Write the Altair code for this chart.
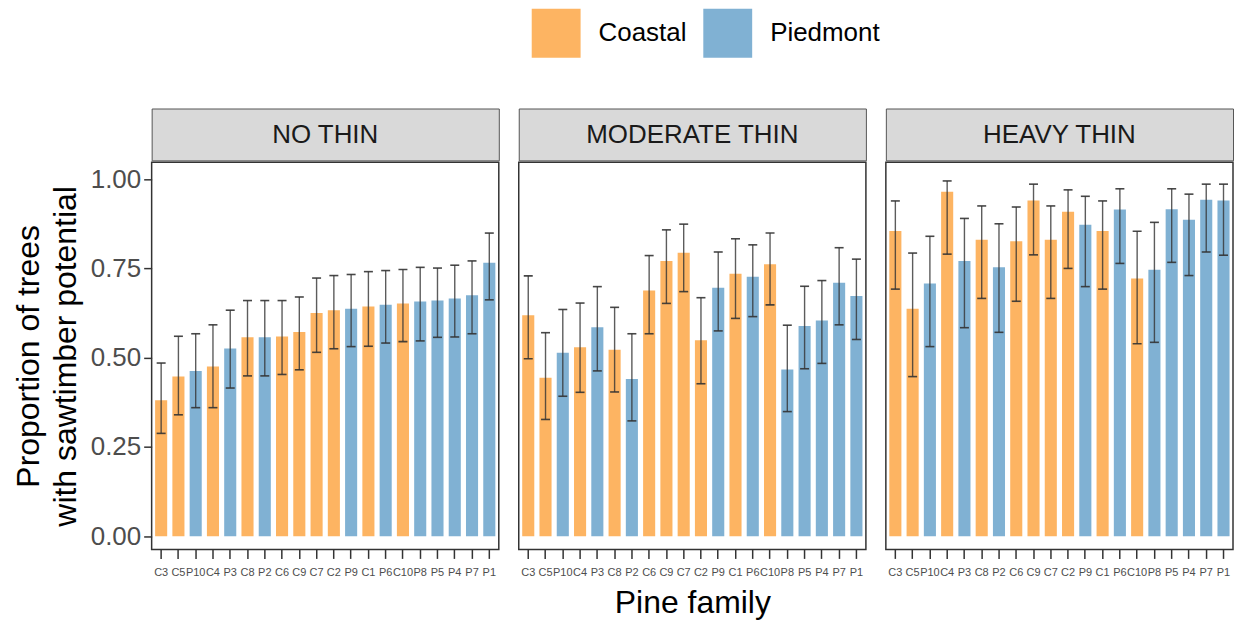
import altair as alt
import pandas as pd

families = ["C3", "C5", "P10", "C4", "P3", "C8", "P2", "C6", "C9", "C7",
            "C2", "P9", "C1", "P6", "C10", "P8", "P5", "P4", "P7", "P1"]
regions = ["Coastal" if f.startswith("C") else "Piedmont" for f in families]
treatments = ["NO THIN", "MODERATE THIN", "HEAVY THIN"]

no_thin = [0.381, 0.447, 0.463, 0.475, 0.526, 0.557, 0.557, 0.559, 0.572, 0.625,
           0.633, 0.637, 0.643, 0.648, 0.652, 0.657, 0.660, 0.666, 0.675, 0.766]
no_thin_lo = [0.288, 0.340, 0.360, 0.360, 0.415, 0.449, 0.449, 0.453, 0.466, 0.515,
              0.525, 0.531, 0.532, 0.541, 0.545, 0.547, 0.557, 0.558, 0.567, 0.662]
no_thin_hi = [0.485, 0.560, 0.567, 0.592, 0.633, 0.660, 0.660, 0.660, 0.670, 0.723,
              0.730, 0.733, 0.741, 0.744, 0.747, 0.753, 0.751, 0.759, 0.771, 0.849]

moderate = [0.619, 0.444, 0.514, 0.529, 0.585, 0.522, 0.440, 0.688, 0.771, 0.794,
            0.549, 0.696, 0.735, 0.727, 0.762, 0.467, 0.589, 0.604, 0.710, 0.673]
moderate_lo = [0.497, 0.327, 0.392, 0.403, 0.463, 0.404, 0.323, 0.567, 0.652, 0.685,
               0.427, 0.575, 0.610, 0.615, 0.648, 0.349, 0.469, 0.484, 0.592, 0.551]
moderate_hi = [0.729, 0.570, 0.635, 0.653, 0.699, 0.641, 0.567, 0.786, 0.858, 0.874,
               0.668, 0.796, 0.833, 0.816, 0.849, 0.591, 0.700, 0.716, 0.808, 0.776]

heavy = [0.855, 0.637, 0.708, 0.965, 0.771, 0.830, 0.753, 0.826, 0.940, 0.830,
         0.909, 0.872, 0.855, 0.915, 0.722, 0.746, 0.916, 0.886, 0.942, 0.940]
heavy_lo = [0.692, 0.447, 0.531, 0.790, 0.584, 0.666, 0.571, 0.658, 0.788, 0.666,
            0.750, 0.699, 0.692, 0.764, 0.539, 0.543, 0.767, 0.730, 0.796, 0.787]
heavy_hi = [0.939, 0.793, 0.840, 0.995, 0.890, 0.925, 0.875, 0.922, 0.986, 0.925,
            0.970, 0.952, 0.939, 0.973, 0.854, 0.879, 0.973, 0.958, 0.986, 0.986]

y_ticks = [0, 0.25, 0.5, 0.75, 1.0]
series = [(no_thin, no_thin_lo, no_thin_hi),
          (moderate, moderate_lo, moderate_hi),
          (heavy, heavy_lo, heavy_hi)]

FONT = "Liberation Sans"
W, H, STRIP = 348, 388, 52

color_scale = alt.Scale(domain=["Coastal", "Piedmont"], range=["#FDB462", "#80B1D3"])
y_scale = alt.Scale(domain=[-0.037, 1.047], nice=False)
x_scale = alt.Scale(paddingInner=0.3, paddingOuter=0.2)


def panel(i, name, vals, lo, hi):
    df = pd.DataFrame({"family": families, "value": vals, "lo": lo, "hi": hi,
                       "region": regions})
    strip = alt.Chart(
        pd.DataFrame({"t": [name]}),
        view=alt.ViewBackground(fill="#D9D9D9", stroke="#555555", strokeWidth=1),
    ).mark_text(font=FONT, fontSize=26, color="#1A1A1A", baseline="middle",
                align="center").encode(
        text="t:N", x=alt.value(W / 2), y=alt.value(STRIP / 2 + 1)
    ).properties(width=W, height=STRIP)

    if i == 0:
        yaxis = alt.Axis(values=y_ticks, format=".2f", labelFontSize=26,
                         labelColor="#4D4D4D", labelFont=FONT, tickColor="#333333",
                         tickWidth=1.5, tickSize=8, domain=False, grid=False,
                         labelPadding=3,
                         title=["Proportion of trees", "with sawtimber potential"],
                         titleFontSize=32, titleFontWeight="normal", titleColor="black",
                         titleFont=FONT, titlePadding=8, titleLineHeight=37)
    else:
        yaxis = None

    xaxis = alt.Axis(labelAngle=0, labelFontSize=11, labelColor="#4D4D4D",
                     labelFont=FONT, tickColor="#333333", tickWidth=1.5, tickSize=9,
                     domain=False, grid=False, labelOverlap=False, labelPadding=8,
                     title="Pine family" if i == 1 else None,
                     titleFontSize=32, titleFontWeight="normal", titleColor="black",
                     titleFont=FONT, titlePadding=10)

    X = alt.X("family:N", sort=families, scale=x_scale, axis=xaxis)
    base = alt.Chart(df)

    bars = base.mark_bar().encode(
        x=X,
        y=alt.Y("value:Q", scale=y_scale, axis=yaxis),
        y2=alt.datum(0),
        color=alt.Color("region:N", scale=color_scale,
                        legend=alt.Legend(orient="none", legendX=381, legendY=-100,
                                          direction="horizontal", title=None,
                                          symbolType="square", symbolSize=2401,
                                          symbolStrokeWidth=0, symbolOpacity=1,
                                          labelFontSize=26, labelColor="black",
                                          labelFont=FONT, labelOffset=18,
                                          columnPadding=16)),
    )
    rules = base.mark_rule(color="#333333", strokeWidth=1.4, opacity=0.8).encode(
        x=X, y=alt.Y("lo:Q", scale=y_scale, axis=yaxis), y2="hi:Q"
    )
    cap_hi = base.mark_tick(color="#333333", size=9, thickness=1.6, opacity=0.9).encode(
        x=X, y=alt.Y("hi:Q", scale=y_scale, axis=yaxis)
    )
    cap_lo = base.mark_tick(color="#333333", size=9, thickness=1.6, opacity=0.9).encode(
        x=X, y=alt.Y("lo:Q", scale=y_scale, axis=yaxis)
    )
    plot = alt.layer(bars, rules, cap_hi, cap_lo).properties(width=W, height=H)
    return alt.vconcat(strip, plot, spacing=0)


panels = [panel(i, treatments[i], *series[i]) for i in range(3)]

chart = alt.hconcat(*panels, spacing=18).resolve_scale(color="shared").properties(
    padding={"left": 3, "top": 0, "right": 0, "bottom": 0}
).configure(font=FONT).configure_view(stroke="#333333", strokeWidth=1.5)

chart.save("out.html", embed_options={"renderer": "svg", "actions": False})
